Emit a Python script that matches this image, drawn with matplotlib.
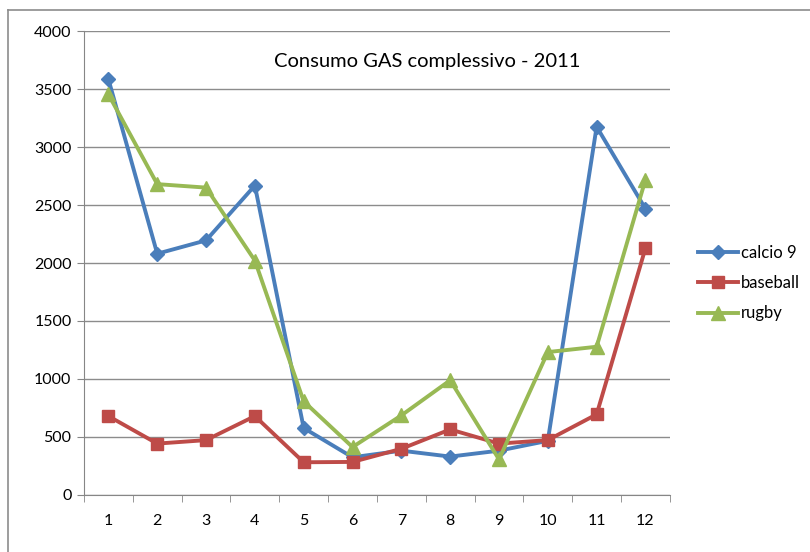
import matplotlib.pyplot as plt
from matplotlib.lines import Line2D

months = list(range(1, 13))
calcio9 = [3585, 2080, 2195, 2668, 577, 325, 382, 331, 382, 467, 3175, 2467]
baseball = [680, 443, 473, 680, 282, 285, 398, 565, 443, 473, 695, 2128]
rugby = [3454, 2680, 2650, 2021, 807, 413, 686, 989, 307, 1232, 1278, 2719]
yticks = [0, 500, 1000, 1500, 2000, 2500, 3000, 3500, 4000]

plt.rcParams['font.family'] = ['Lato', 'DejaVu Sans']

fig = plt.figure(figsize=(8.1, 5.52), dpi=100)
ax = fig.add_axes([0.1037, 0.1033, 0.827 - 0.1037, 0.9438 - 0.1033])

ax.plot(months, calcio9, color='#4A7EBB', lw=2.8, marker='D', ms=7, label='calcio 9')
ax.plot(months, baseball, color='#BE4B48', lw=2.8, marker='s', ms=9, label='baseball')
ax.plot(months, rugby, color='#98B954', lw=2.8, marker='^', ms=9.5, label='rugby')

ax.set_xlim(0.5, 12.5)
ax.set_ylim(0, 4000)
ax.set_yticks(yticks)
ax.set_xticks(months)
ax.set_xticks([m + 0.5 for m in [0] + months], minor=True)
ax.tick_params(axis='x', which='major', length=0, pad=14, labelsize=11.5)
ax.tick_params(axis='x', which='minor', length=5, color='#868686', direction='out')
ax.tick_params(axis='y', length=5, color='#868686', labelsize=11.5, pad=4)
ax.grid(axis='y', color='#8c8c8c', lw=1)
ax.set_axisbelow(True)
for s in ['top', 'right']:
    ax.spines[s].set_visible(False)
for s in ['left', 'bottom']:
    ax.spines[s].set_color('#868686')

ax.text(0.585, 0.934, 'Consumo GAS complessivo - 2011', transform=ax.transAxes,
        ha='center', va='center', fontsize=14.5)

fig.legend(loc='center left', bbox_to_anchor=(0.843, 0.487), frameon=False,
           fontsize=12, handlelength=2.4, handletextpad=0.2, labelspacing=0.85)

# chart border (left and top visible)
fig.add_artist(Line2D([8 / 810, 8 / 810], [0, 1 - 10 / 552], color='#8c8c8c', lw=1.2))
fig.add_artist(Line2D([8 / 810, 1], [1 - 10 / 552, 1 - 10 / 552], color='#8c8c8c', lw=1.2))

fig.savefig('out.png', dpi=100)
